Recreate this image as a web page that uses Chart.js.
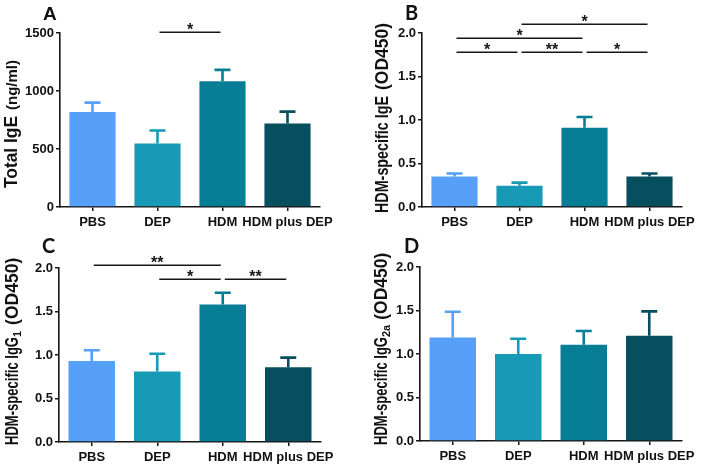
<!DOCTYPE html>
<html><head><meta charset="utf-8">
<script src="https://cdn.jsdelivr.net/npm/chart.js@4/dist/chart.umd.min.js"></script>
<style>
html,body{margin:0;padding:0;background:#fff;}
#wrap{position:relative;width:708px;height:465px;overflow:hidden;background:#fff;}
.p{position:absolute;}
canvas{display:block;}
</style></head><body>
<div id="wrap">
<div class="p" style="left:0;top:0"><canvas id="cA" width="354" height="232"></canvas></div>
<div class="p" style="left:354px;top:0"><canvas id="cB" width="354" height="232"></canvas></div>
<div class="p" style="left:0;top:232px"><canvas id="cC" width="354" height="233"></canvas></div>
<div class="p" style="left:354px;top:232px"><canvas id="cD" width="354" height="233"></canvas></div>
</div>
<script>
// ---- data ----
const categories = ['PBS', 'DEP', 'HDM', 'HDM plus DEP'];
const barColors = ['#56a0fa', '#169ab5', '#077e96', '#074e5e'];

const totalIgE = [818, 547, 1085, 720];
const totalIgEErr = [82, 112, 97, 102];
const totalIgETicks = [0, 500, 1000, 1500];

const hdmIgE = [0.35, 0.245, 0.91, 0.35];
const hdmIgEErr = [0.035, 0.035, 0.125, 0.035];

const hdmIgG1 = [0.93, 0.81, 1.58, 0.86];
const hdmIgG1Err = [0.125, 0.205, 0.135, 0.11];

const hdmIgG2a = [1.19, 1.0, 1.105, 1.21];
const hdmIgG2aErr = [0.295, 0.175, 0.16, 0.28];

const odTicks = [0, 0.5, 1.0, 1.5, 2.0];

// significance: [fromCategory, toCategory, level (axis value), label]
const sigA = [[1, 2, 1505, '*']];
const sigB = [[0, 1, 1.785, '*'], [1, 2, 1.785, '**'], [2, 3, 1.785, '*'], [0, 2, 1.94, '*'], [1, 3, 2.10, '*']];
const sigC = [[0, 2, 2.03, '**'], [1, 2, 1.877, '*'], [2, 3, 1.877, '**']];
const sigD = [];

// ---- drawing ----
const INK = '#161616';
const FAM = '"Liberation Sans", Arial, sans-serif';

function decorPlugin(cfg) {
  return {
    id: 'decor',
    afterDatasetsDraw(chart) {
      const ctx = chart.ctx;
      const meta = chart.getDatasetMeta(0);
      const ys = chart.scales.y;
      ctx.save();
      meta.data.forEach((bar, i) => {
        const v = cfg.values[i], e = cfg.errors[i];
        const x = bar.x;
        const yTop = ys.getPixelForValue(v);
        const yErr = ys.getPixelForValue(v + e);
        ctx.strokeStyle = barColors[i];
        ctx.lineWidth = 2.6;
        ctx.lineCap = 'butt';
        ctx.beginPath();
        ctx.moveTo(x, yTop);
        ctx.lineTo(x, yErr);
        ctx.moveTo(x - 8, yErr);
        ctx.lineTo(x + 8, yErr);
        ctx.stroke();
      });
      ctx.restore();
    },
    afterDraw(chart) {
      const ctx = chart.ctx;
      const xs = chart.scales.x, ys = chart.scales.y;
      ctx.save();
      // significance bars
      ctx.strokeStyle = INK;
      ctx.fillStyle = INK;
      ctx.lineWidth = 1.5;
      ctx.font = 'bold 16px ' + FAM;
      ctx.textAlign = 'center';
      ctx.textBaseline = 'alphabetic';
      cfg.sig.forEach(s => {
        const x1 = xs.getPixelForValue(s[0]) + 2;
        const x2 = xs.getPixelForValue(s[1]) - 2;
        const y = Math.round(ys.getPixelForValue(s[2])) + 0.25;
        ctx.beginPath();
        ctx.moveTo(x1, y);
        ctx.lineTo(x2, y);
        ctx.stroke();
        const m = ctx.measureText(s[3]);
        const base = y - 2 - m.actualBoundingBoxDescent;
        ctx.fillText(s[3], (x1 + x2) / 2, base);
      });
      // panel letter
      ctx.textAlign = 'left';
      ctx.font = cfg.letterFont;
      ctx.fillStyle = '#111';
      ctx.fillText(cfg.letter, cfg.letterX, cfg.letterY);
      // rotated y title
      const t = cfg.title;
      ctx.translate(t.x, t.bottom);
      ctx.rotate(-Math.PI / 2);
      let pos = 0;
      t.parts.forEach(p => {
        ctx.font = p.font;
        pos += p.gap || 0;
        const w = ctx.measureText(p.text).width;
        const k = (p.len && w > p.len) ? p.len / w : 1;
        ctx.save();
        ctx.translate(pos, p.dy || 0);
        ctx.scale(k, 1);
        ctx.fillText(p.text, 0, 0);
        ctx.restore();
        pos += w * k;
      });
      ctx.restore();
    }
  };
}

function makeChart(id, cfg) {
  const canvas = document.getElementById(id);
  const W = canvas.width, H = canvas.height;
  return new Chart(canvas, {
    type: 'bar',
    data: {
      labels: categories,
      datasets: [{
        data: cfg.values,
        backgroundColor: barColors,
        borderWidth: 0,
        barPercentage: 0.71,
        categoryPercentage: 1.0
      }]
    },
    options: {
      responsive: false,
      animation: false,
      devicePixelRatio: 1,
      layout: { padding: { top: cfg.area.top, right: W - cfg.area.right, left: 0, bottom: 0 } },
      plugins: { legend: { display: false }, tooltip: { enabled: false } },
      scales: {
        x: {
          offset: true,
          grid: { offset: false, drawOnChartArea: false, drawTicks: true, tickLength: 4, color: INK, lineWidth: 1.5 },
          border: { display: true, color: INK, width: 1.6 },
          ticks: { color: '#111', font: { family: FAM, size: 13, weight: 'bold' }, padding: 4, maxRotation: 0, autoSkip: false },
          afterFit(scale) { scale.height = H - cfg.area.bottom; }
        },
        y: {
          min: cfg.ticks[0],
          max: cfg.ticks[cfg.ticks.length - 1],
          afterBuildTicks(scale) { scale.ticks = cfg.ticks.map(v => ({ value: v })); },
          grid: { drawOnChartArea: false, drawTicks: true, tickLength: 4, color: INK, lineWidth: 1.5 },
          border: { display: true, color: INK, width: 1.6 },
          ticks: {
            color: '#111',
            font: { family: FAM, size: 13, weight: 'bold' },
            padding: 2,
            callback: cfg.tickFmt
          },
          afterFit(scale) { scale.width = cfg.area.left; }
        }
      }
    },
    plugins: [decorPlugin(cfg)]
  });
}

const mainFont = s => `bold ${s}px ${FAM}`;
const letterFont = 'bold 20px Lato, "Liberation Sans", sans-serif';

makeChart('cA', {
  values: totalIgE, errors: totalIgEErr, ticks: totalIgETicks, sig: sigA,
  tickFmt: v => String(v),
  area: { left: 60, right: 320, top: 33, bottom: 207 },
  letter: 'A', letterFont: 'bold 19px ' + FAM, letterX: 43, letterY: 20,
  title: { x: 17, bottom: 188, parts: [
    { text: 'Total IgE', font: mainFont(18), len: 72 },
    { text: '(ng/ml)', font: mainFont(15), gap: 6 }
  ] }
});

makeChart('cB', {
  values: hdmIgE, errors: hdmIgEErr, ticks: odTicks, sig: sigB,
  tickFmt: v => Number(v).toFixed(1),
  area: { left: 68, right: 328, top: 33, bottom: 207 },
  letter: 'B', letterFont: letterFont, letterX: 51, letterY: 20,
  title: { x: 34, bottom: 213, parts: [
    { text: 'HDM-specific IgE', font: mainFont(17.5), len: 117 },
    { text: '(OD450)', font: mainFont(17.5), gap: 6 }
  ] }
});

makeChart('cC', {
  values: hdmIgG1, errors: hdmIgG1Err, ticks: odTicks, sig: sigC,
  tickFmt: v => Number(v).toFixed(1),
  area: { left: 59, right: 321, top: 36, bottom: 210 },
  letter: 'C', letterFont: letterFont, letterX: 42, letterY: 21,
  title: { x: 18, bottom: 213, parts: [
    { text: 'HDM-specific IgG', font: mainFont(17.5), len: 108 },
    { text: '1', font: mainFont(11), dy: 3 },
    { text: '(OD450)', font: mainFont(17.5), gap: 6 }
  ] }
});

makeChart('cD', {
  values: hdmIgG2a, errors: hdmIgG2aErr, ticks: odTicks, sig: sigD,
  tickFmt: v => Number(v).toFixed(1),
  area: { left: 66, right: 328, top: 35, bottom: 209 },
  letter: 'D', letterFont: letterFont, letterX: 50, letterY: 21,
  title: { x: 33, bottom: 213, parts: [
    { text: 'HDM-specific IgG', font: mainFont(17.5), len: 108 },
    { text: '2a', font: mainFont(11), dy: 3 },
    { text: '(OD450)', font: mainFont(17.5), gap: 5 }
  ] }
});
</script>
</body></html>
